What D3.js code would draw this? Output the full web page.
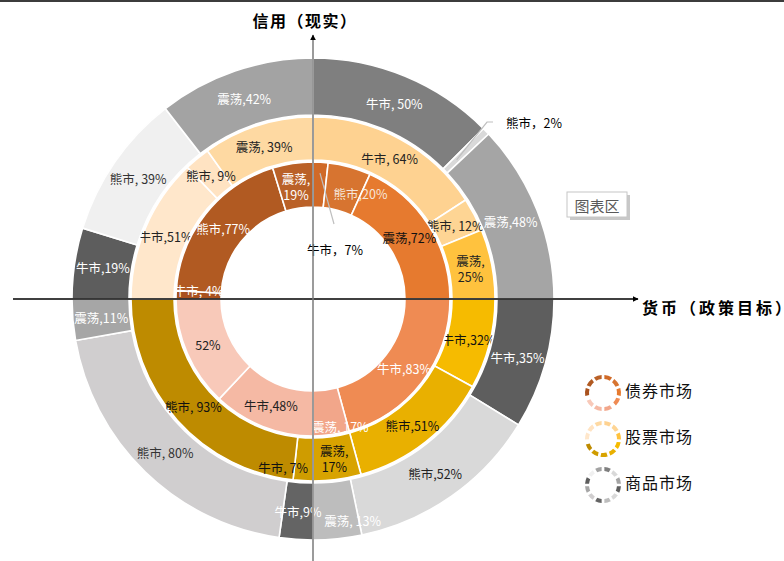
<!DOCTYPE html>
<html>
<head>
<meta charset="utf-8">
<script src="https://d3js.org/d3.v7.min.js"></script>
<style>
  body { margin: 0; background: #fff; }
  text { font-family: "Noto Sans CJK SC", "Noto Sans", sans-serif; }
</style>
</head>
<body>
<script>
// quadrants run clockwise from 12 o'clock, each one is [牛市, 熊市, 震荡]
var quadrants = ["Q1", "Q2", "Q3", "Q4"];
var states = ["牛市", "熊市", "震荡"];
var seriesNames = ["债券市场", "股票市场", "商品市场"];

var bondValues = [7, 20, 72, 83, 0, 17, 48, 52, 0, 4, 77, 19];
var stockValues = [64, 12, 25, 32, 51, 17, 7, 93, 0, 51, 9, 39];
var commodityValues = [50, 2, 48, 35, 52, 13, 9, 80, 11, 19, 39, 42];

var bondLabels = ["牛市，7%", "熊市,20%", "震荡,72%", "牛市,83%", "", "震荡, 17%",
                  "牛市,48%", "52%", "", "牛市, 4%", "熊市,77%", "震荡,\n19%"];
var stockLabels = ["牛市, 64%", "熊市, 12%", "震荡,\n25%", "牛市,32%", "熊市,51%", "震荡,\n17%",
                   "牛市, 7%", "熊市, 93%", "", "牛市,51%", "熊市, 9%", "震荡, 39%"];
var commodityLabels = ["牛市, 50%", "熊市，2%", "震荡,48%", "牛市,35%", "熊市,52%", "震荡, 13%",
                       "牛市,9%", "熊市, 80%", "震荡,11%", "牛市,19%", "熊市, 39%", "震荡,42%"];

// colours
var bondColors = ["#D06A28", "#D77430", "#E67A2F", "#EF8B53", "#F2A68A", "#F2A68A",
                  "#F5B9A4", "#F8C9B9", "#F8C9B9", "#A9521E", "#B15A22", "#BA6128"];
var stockColors = ["#FED291", "#FED594", "#FFC23E", "#F6BB00", "#E9B000", "#D8A300",
                   "#CF9C00", "#BE8B00", "#BE8B00", "#FFE7CB", "#FFE3C2", "#FED9A2"];
var commodityColors = ["#7F7F7F", "#D9D9D9", "#A5A5A5", "#5E5E5E", "#D9D9D9", "#BDBDBD",
                       "#646464", "#D0CECF", "#A6A6A6", "#5D5D5D", "#F0F0F0", "#A3A3A3"];
var bondText = ["#000", "#F6E6DA", "#111", "#fff", "#fff", "#fff", "#222", "#222", "#222", "#fff", "#fff", "#fff"];
var stockText = ["#222", "#222", "#222", "#111", "#111", "#111", "#111", "#111", "#111", "#222", "#222", "#222"];
var commodityText = ["#fff", "#000", "#fff", "#fff", "#222", "#fff", "#fff", "#333", "#fff", "#fff", "#333", "#fff"];

var width = 784, height = 561;
var cx = 313, cy = 299;

var svg = d3.select("body").append("svg")
    .attr("width", width)
    .attr("height", height);

svg.append("rect").attr("x", 0).attr("y", 0).attr("width", width).attr("height", 2).attr("fill", "#3c3c3c");

var chart = svg.append("g").attr("transform", "translate(" + cx + "," + cy + ")");

var rings = {
    bond: { values: bondValues, labels: bondLabels, colors: bondColors, text: bondText, r0: 92, r1: 137 },
    stock: { values: stockValues, labels: stockLabels, colors: stockColors, text: stockText, r0: 139, r1: 182 },
    commodity: { values: commodityValues, labels: commodityLabels, colors: commodityColors, text: commodityText, r0: 184, r1: 241 }
};

// small nudges where the labels were moved in the original
var nudge = { "bond-1": [17, 4], "bond-5": [12, 14], "bond-9": [0, -5], "stock-6": [-21, 8], "commodity-5": [18, 10] };
// labels with leader lines, relative to centre
var leaders = {
    "bond-0": { r: 126, pts: [[21, -75]], at: [22, -50], anchor: "middle" },
    "commodity-1": { r: 200, pts: [[174, -177], [180, -177]], at: [193, -177], anchor: "start" }
};

function slicesFor(values) {
    var out = [];
    quadrants.forEach(function(q, qi) {
        var pie = d3.pie().sort(null)
            .startAngle(qi * Math.PI / 2)
            .endAngle((qi + 1) * Math.PI / 2);
        var part = values.slice(qi * 3, qi * 3 + 3);
        pie(part).forEach(function(p, i) {
            p.index = qi * 3 + i;
            out.push(p);
        });
    });
    return out;
}

function drawRing(key) {
    var ring = rings[key];
    var arc = d3.arc().innerRadius(ring.r0).outerRadius(ring.r1);
    var g = chart.append("g");
    var slices = slicesFor(ring.values).filter(function(s) { return s.value > 0; });

    g.selectAll("path.slice")
        .data(slices)
        .enter().append("path")
        .attr("class", "slice")
        .attr("d", arc)
        .attr("fill", function(s) { return ring.colors[s.index]; })
        .attr("stroke", "#fff")
        .attr("stroke-width", 1.6);

    slices.forEach(function(s) {
        var id = key + "-" + s.index;
        var label = ring.labels[s.index];
        if (!label) return;
        var pos = arc.centroid(s), anchor = "middle";
        if (leaders[id]) {
            var L = leaders[id];
            var mid = (s.startAngle + s.endAngle) / 2;
            var start = [L.r * Math.sin(mid), -L.r * Math.cos(mid)];
            g.append("path")
                .attr("d", d3.line()([start].concat(L.pts)))
                .attr("fill", "none")
                .attr("stroke", "#BFBFBF")
                .attr("stroke-width", 1.2);
            pos = L.at;
            anchor = L.anchor;
        } else if (nudge[id]) {
            pos = [pos[0] + nudge[id][0], pos[1] + nudge[id][1]];
        }
        var lines = label.split("\n");
        var t = g.append("text")
            .attr("x", pos[0])
            .attr("y", pos[1] - (lines.length - 1) * 8)
            .attr("text-anchor", anchor)
            .attr("dominant-baseline", "central")
            .attr("font-size", 12.5)
            .attr("fill", leaders[id] ? "#000" : ring.text[s.index]);
        lines.forEach(function(l, li) {
            t.append("tspan").attr("x", pos[0]).attr("dy", li === 0 ? 0 : 16).text(l);
        });
    });
}

// middle first so the other two rings clip its labels like the original
drawRing("stock");
drawRing("bond");
drawRing("commodity");

// axes with arrows
var defs = svg.append("defs");
defs.append("marker")
    .attr("id", "arrow")
    .attr("viewBox", "0 0 10 10")
    .attr("refX", 9).attr("refY", 5)
    .attr("markerWidth", 6).attr("markerHeight", 6)
    .attr("markerUnits", "userSpaceOnUse")
    .attr("orient", "auto")
    .append("path").attr("d", "M0,0L10,5L0,10Z").attr("fill", "#000");

svg.append("line")
    .attr("x1", 13).attr("y1", cy).attr("x2", 638).attr("y2", cy)
    .attr("stroke", "#000").attr("stroke-width", 1.5)
    .attr("marker-end", "url(#arrow)");
svg.append("line")
    .attr("x1", cx).attr("y1", height).attr("x2", cx).attr("y2", 35)
    .attr("stroke", "#7a7a7a").attr("stroke-width", 1.5)
    .attr("marker-end", "url(#arrow)");

svg.append("text")
    .attr("x", 305).attr("y", 20)
    .attr("text-anchor", "middle")
    .attr("dominant-baseline", "central")
    .attr("font-size", 16).attr("font-weight", "bold")
    .attr("letter-spacing", 1.5)
    .text("信用（现实）");
svg.append("text")
    .attr("x", 642).attr("y", 307)
    .attr("dominant-baseline", "central")
    .attr("font-size", 16).attr("font-weight", "bold")
    .attr("letter-spacing", 3)
    .text("货币（政策目标）");

// "图表区" tooltip box
svg.append("rect").attr("x", 570).attr("y", 195).attr("width", 60).attr("height", 25).attr("fill", "#c8c8c8");
svg.append("rect").attr("x", 567).attr("y", 192).attr("width", 60).attr("height", 25)
    .attr("fill", "#fff").attr("stroke", "#c6c6c6");
svg.append("text").attr("x", 597).attr("y", 205)
    .attr("text-anchor", "middle").attr("dominant-baseline", "central")
    .attr("font-size", 15).attr("fill", "#595959")
    .text("图表区");

// legend
var legendY = d3.scalePoint().domain(seriesNames).range([390, 482]);
var legendRings = [rings.bond, rings.stock, rings.commodity];
var iconArc = d3.arc().innerRadius(14).outerRadius(18);
seriesNames.forEach(function(name, i) {
    var y = legendY(name);
    var lg = svg.append("g").attr("transform", "translate(603," + (y + 3) + ")");
    var pie = d3.pie().sort(null).padAngle(0.12);
    pie(legendRings[i].values.map(function(v) { return v > 0 ? 1 : 0; })).forEach(function(p, k) {
        if (p.value === 0) return;
        lg.append("path").attr("d", iconArc(p)).attr("fill", legendRings[i].colors[k]);
    });
    svg.append("text")
        .attr("x", 625).attr("y", y)
        .attr("dominant-baseline", "central")
        .attr("font-size", 16)
        .attr("letter-spacing", 1)
        .attr("fill", "#111")
        .text(name);
});
</script>
</body>
</html>
